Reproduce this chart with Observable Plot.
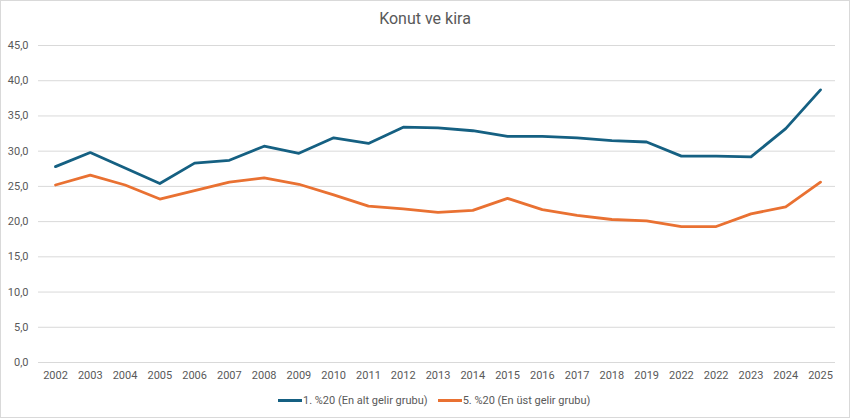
<!DOCTYPE html>
<html>
<head>
<meta charset="utf-8">
<script src="https://cdn.jsdelivr.net/npm/d3@7"></script>
<script src="https://cdn.jsdelivr.net/npm/@observablehq/plot@0.6"></script>
<style>
  html, body { margin: 0; padding: 0; background: #fff; }
  #wrap { position: relative; width: 850px; height: 418px; font-family: Roboto, "Open Sans", sans-serif; color: #595959; overflow: hidden; }
  #border { position: absolute; left: 0; top: 0; width: 850px; height: 418px; box-sizing: border-box; border: 1px solid #d9d9d9; pointer-events: none; }
  #title { position: absolute; left: 0; top: 0; width: 850px; height: 32px; line-height: 38px; text-align: center; font-size: 16px; }
  #chart { position: absolute; left: 0; top: 32px; }
  #legend { position: absolute; left: 278px; top: 390px; height: 20px; display: flex; align-items: center; gap: 10px; font-size: 11px; }
  .item { display: flex; align-items: center; }
  .sw { display: inline-block; width: 24px; height: 3px; margin-right: 1px; }
</style>
</head>
<body>
<div id="wrap">
  <div id="title">Konut ve kira</div>
  <div id="chart"></div>
  <div id="legend"></div>
  <div id="border"></div>
</div>
<script>
const years = ["2002","2003","2004","2005","2006","2007","2008","2009","2010","2011","2012","2013","2014","2015","2016","2017","2018","2019","2022","2022","2023","2024","2025"];
const seriesNames = ["1. %20 (En alt gelir grubu)", "5. %20 (En üst gelir grubu)"];
const seriesColors = ["#156082", "#E97132"];
const lowest  = [27.8, 29.8, 27.6, 25.4, 28.3, 28.7, 30.7, 29.7, 31.9, 31.1, 33.4, 33.3, 32.9, 32.1, 32.1, 31.9, 31.5, 31.3, 29.3, 29.3, 29.2, 33.2, 38.7];
const highest = [25.2, 26.6, 25.2, 23.2, 24.4, 25.6, 26.2, 25.3, 23.8, 22.2, 21.8, 21.3, 21.6, 23.3, 21.7, 20.9, 20.3, 20.1, 19.3, 19.3, 21.1, 22.1, 25.6];
const yTicks = [0, 5, 10, 15, 20, 25, 30, 35, 40, 45];

const rows = [];
years.forEach((y, i) => {
  rows.push({i, s: seriesNames[0], v: lowest[i]});
});
years.forEach((y, i) => {
  rows.push({i, s: seriesNames[1], v: highest[i]});
});

const fmt = v => v.toFixed(1).replace(".", ",");

const plot = Plot.plot({
  width: 850,
  height: 352,
  marginTop: 13,
  marginBottom: 22,
  marginLeft: 38,
  marginRight: 15,
  style: {fontFamily: "Roboto, 'Open Sans', sans-serif", fontSize: "11px", color: "#595959", background: "transparent"},
  x: {type: "point", domain: d3.range(years.length), padding: 0, round: false, insetLeft: 17, insetRight: 15, label: null},
  y: {domain: [0, 45], label: null},
  color: {domain: seriesNames, range: seriesColors},
  marks: [
    Plot.ruleY(yTicks, {stroke: "#d9d9d9", strokeWidth: 1}),
    Plot.axisY({ticks: yTicks, tickFormat: fmt, tickSize: 0, tickPadding: 10, label: null, fill: "#595959"}),
    Plot.axisX({ticks: d3.range(years.length), tickFormat: i => years[i], tickSize: 0, tickPadding: 9, label: null, fill: "#595959"}),
    Plot.line(rows, {x: "i", y: "v", z: "s", stroke: "s", strokeWidth: 2.8, strokeLinejoin: "round", strokeLinecap: "round"})
  ]
});
document.getElementById("chart").appendChild(plot);

const legend = document.getElementById("legend");
seriesNames.forEach((n, k) => {
  const item = document.createElement("span");
  item.className = "item";
  const sw = document.createElement("span");
  sw.className = "sw";
  sw.style.background = seriesColors[k];
  item.appendChild(sw);
  item.appendChild(document.createTextNode(n));
  legend.appendChild(item);
});
</script>
</body>
</html>
